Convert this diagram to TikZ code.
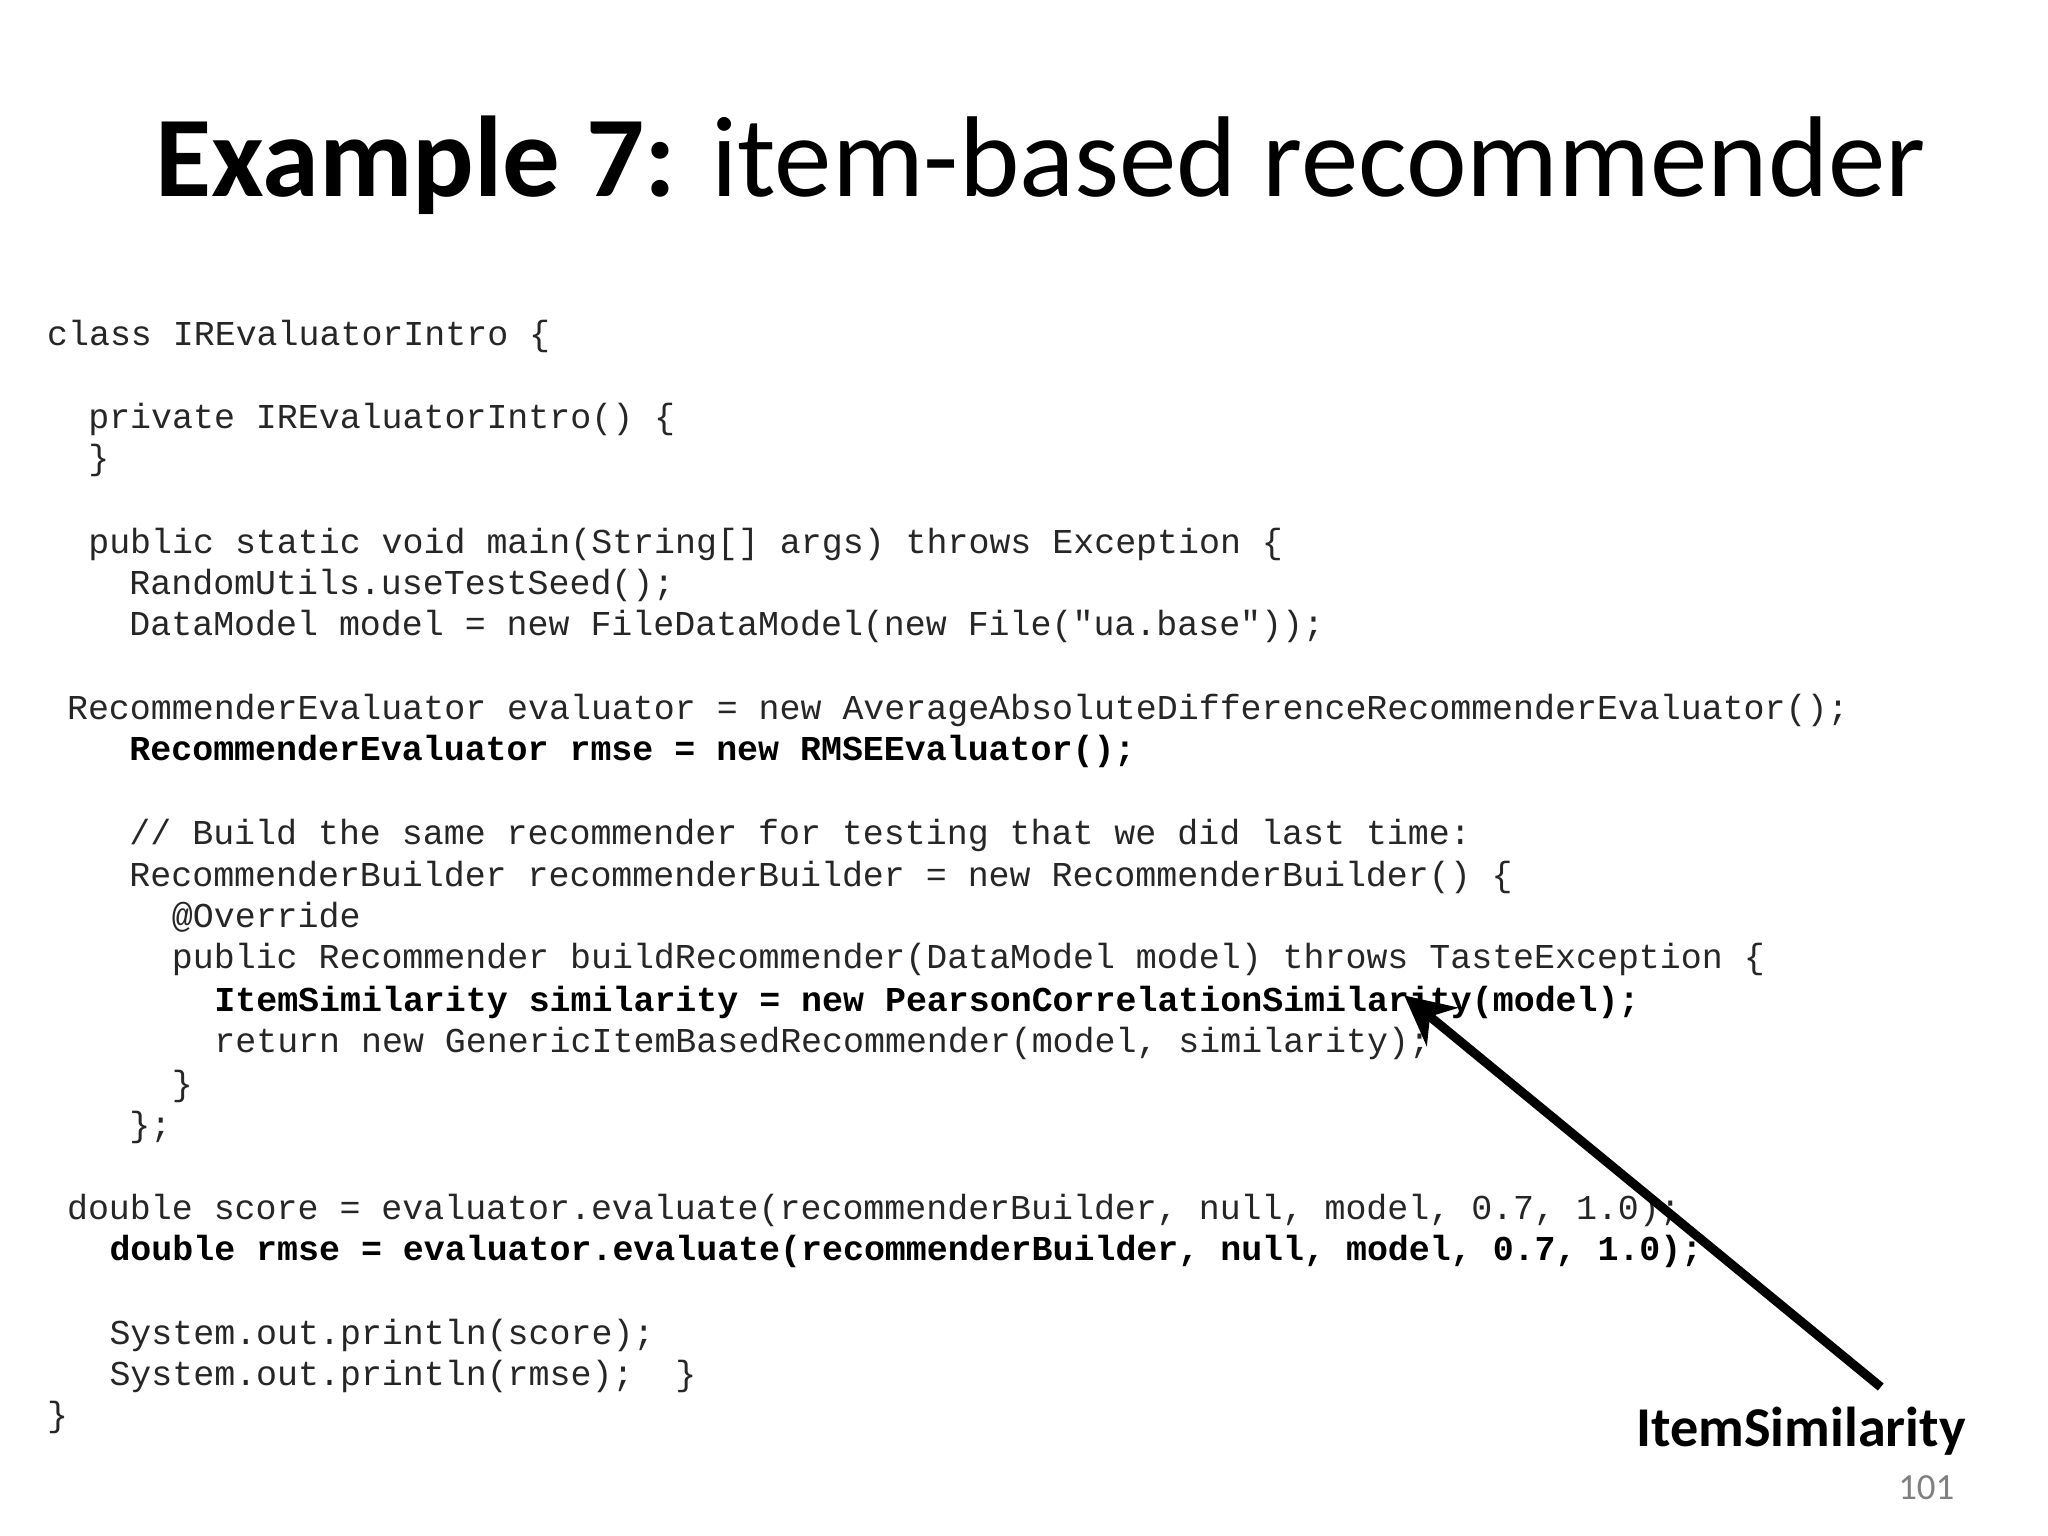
\documentclass[tikz,border=0pt]{standalone}
\usepackage{fontspec}
\setmainfont{Carlito}
\setmonofont{Liberation Mono}
\usetikzlibrary{arrows.meta}
\begin{document}
\begin{tikzpicture}[x=0.013273cm,y=-0.013273cm,
  code/.style={anchor=base west,inner sep=0,font=\fontsize{9.94pt}{11pt}\ttfamily,text=black!85},
  bcode/.style={code,font=\fontsize{9.94pt}{11pt}\ttfamily\bfseries,text=black}]
\useasboundingbox (0,0) rectangle (1543,1157);
\node[anchor=base,inner sep=0,font=\fontsize{32.7pt}{36pt}\selectfont] (title) at (784,148) {\textbf{Example 7:} item-based recommender};
\node[code] (l1) at (35,260) {class IREvaluatorIntro \{};
\node[code] (l2) at (66,323) {private IREvaluatorIntro() \{};
\node[code] (l3) at (66,354) {\}};
\node[code] (l4) at (66,417) {public static void main(String[] args) throws Exception \{};
\node[code] (l5) at (97,448) {RandomUtils.useTestSeed();};
\node[code] (l6) at (97,479) {DataModel model = new FileDataModel(new File("ua.base"));};
\node[code] (l7) at (50,542) {RecommenderEvaluator evaluator = new AverageAbsoluteDifferenceRecommenderEvaluator();};
\node[bcode] (l8) at (97,573) {RecommenderEvaluator rmse = new RMSEEvaluator();};
\node[code] (l9) at (97,636) {// Build the same recommender for testing that we did last time:};
\node[code] (l10) at (97,668) {RecommenderBuilder recommenderBuilder = new RecommenderBuilder() \{};
\node[code] (l11) at (129,699) {@Override};
\node[code] (l12) at (129,730) {public Recommender buildRecommender(DataModel model) throws TasteException \{};
\node[bcode] (l13) at (161,762) {ItemSimilarity similarity = new PearsonCorrelationSimilarity(model);};
\node[code] (l14) at (161,793) {return new GenericItemBasedRecommender(model, similarity);};
\node[code] (l15) at (129,825) {\}};
\node[code] (l16) at (97,856) {\};};
\node[code] (l17) at (50,919) {double score = evaluator.evaluate(recommenderBuilder, null, model, 0.7, 1.0);};
\node[bcode] (l18) at (82,950) {double rmse = evaluator.evaluate(recommenderBuilder, null, model, 0.7, 1.0);};
\node[code] (l19) at (82,1013) {System.out.println(score);};
\node[code] (l20) at (82,1044) {System.out.println(rmse);\ \ \}};
\node[code] (l21) at (35,1075) {\}};
\node[anchor=base,inner sep=0,font=\fontsize{16pt}{18pt}\selectfont\bfseries] (lab) at (1357,1090) {ItemSimilarity};
\node[anchor=base east,inner sep=0,font=\fontsize{10.5pt}{12pt}\selectfont,text=black!50] (pg) at (1473,1130) {101};
\coordinate (a0) at (1417,1045);
\coordinate (a1) at (1058,750);
\draw[line width=2.6pt,-{Stealth[length=14pt,width=14pt]}] (a0) -- (a1);
\end{tikzpicture}
\end{document}
